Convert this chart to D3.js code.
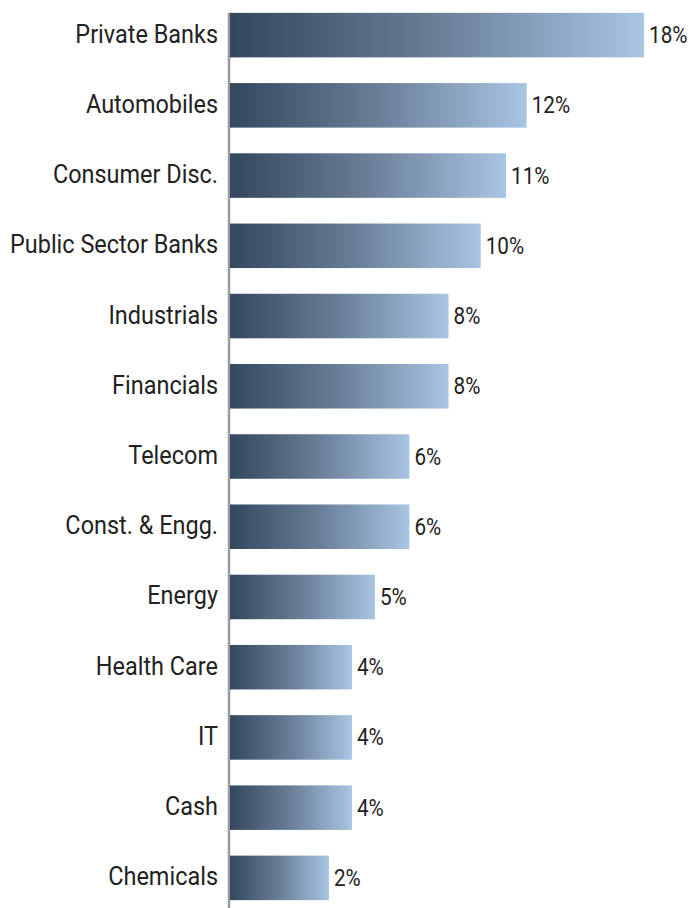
<!DOCTYPE html>
<html>
<head>
<meta charset="utf-8">
<script src="https://cdn.jsdelivr.net/npm/d3@7"></script>
<style>
  body { margin: 0; background: #fff; }
  text { font-family: Roboto, "Noto Sans", sans-serif; fill: #222; }
</style>
</head>
<body>
<script>
// sector names, top to bottom
var sectors = ["Private Banks", "Automobiles", "Consumer Disc.", "Public Sector Banks",
    "Industrials", "Financials", "Telecom", "Const. & Engg.", "Energy",
    "Health Care", "IT", "Cash", "Chemicals"];

// bar lengths (%)
var weights = [18.0, 12.9, 12.0, 10.9, 9.5, 9.5, 7.8, 7.8, 6.3, 5.3, 5.3, 5.3, 4.3];

// value labels as printed next to the bars
var valueLabels = ["18%", "12%", "11%", "10%", "8%", "8%", "6%", "6%", "5%", "4%", "4%", "4%", "2%"];

var w = 695, h = 908;

var svg = d3.select("body").append("svg")
    .attr("width", w)
    .attr("height", h);

// horizontal gradient, one per bar (bounding box units)
var grad = svg.append("defs").append("linearGradient")
    .attr("id", "barGrad")
    .attr("x1", "0%").attr("x2", "100%")
    .attr("y1", "0%").attr("y2", "0%");
grad.append("stop").attr("offset", "0%").attr("stop-color", "#33475f");
grad.append("stop").attr("offset", "50%").attr("stop-color", "#6a7e98");
grad.append("stop").attr("offset", "100%").attr("stop-color", "#a8c5e3");

var x = d3.scaleLinear()
    .domain([0, 18])
    .range([230, 644]);

var y = d3.scaleBand()
    .domain(sectors)
    .range([0, 913])
    .paddingInner(0.366)
    .paddingOuter(0.183);

// vertical axis line (drawn behind bars)
svg.append("line")
    .attr("x1", 229).attr("x2", 229)
    .attr("y1", y(sectors[0]))
    .attr("y2", h)
    .attr("stroke", "#9a9a9a")
    .attr("stroke-width", 2.5);

svg.selectAll(".bar")
    .data(sectors)
    .enter()
    .append("rect")
    .attr("class", "bar")
    .attr("x", x(0))
    .attr("y", function(d){ return y(d); })
    .attr("width", function(d, i){ return x(weights[i]) - x(0); })
    .attr("height", y.bandwidth())
    .style("fill", "url(#barGrad)");

// category labels (slightly condensed)
svg.selectAll(".cat")
    .data(sectors)
    .enter()
    .append("text")
    .attr("class", "cat")
    .attr("text-anchor", "end")
    .attr("transform", function(d){
        return "translate(218," + (y(d) + y.bandwidth() / 2 + 7.5) + ") scale(0.92,1)";
    })
    .style("font-size", "25.5px")
    .text(function(d){ return d; });

// value labels
svg.selectAll(".val")
    .data(sectors)
    .enter()
    .append("text")
    .attr("class", "val")
    .attr("transform", function(d, i){
        return "translate(" + (x(weights[i]) + 5) + "," + (y(d) + y.bandwidth() / 2 + 8) + ") scale(0.9,1)";
    })
    .style("font-size", "23px")
    .text(function(d, i){ return valueLabels[i]; });
</script>
</body>
</html>
